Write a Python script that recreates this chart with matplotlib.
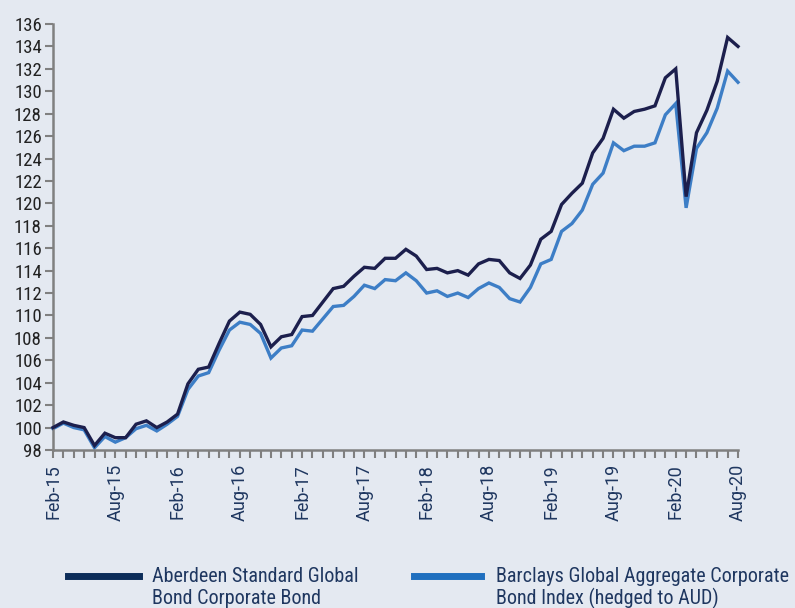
import matplotlib
matplotlib.use("Agg")
import matplotlib.pyplot as plt
from matplotlib.lines import Line2D

aberdeen = [100.0, 100.5, 100.2, 100.0, 98.4, 99.5, 99.1, 99.1, 100.3, 100.6, 100.0, 100.5,
            101.2, 103.9, 105.2, 105.4, 107.5, 109.5, 110.3, 110.1, 109.2, 107.2, 108.1, 108.3,
            109.9, 110.0, 111.2, 112.4, 112.6, 113.5, 114.3, 114.2, 115.1, 115.1, 115.9, 115.3,
            114.1, 114.2, 113.8, 114.0, 113.6, 114.6, 115.0, 114.9, 113.8, 113.3, 114.5, 116.8,
            117.5, 119.9, 120.9, 121.8, 124.5, 125.8, 128.4, 127.6, 128.2, 128.4, 128.7, 131.2,
            132.0, 120.6, 126.3, 128.3, 130.9, 134.8, 134.0]

barclays = [99.9, 100.4, 100.0, 99.8, 98.2, 99.2, 98.7, 99.1, 99.9, 100.2, 99.7, 100.3,
            101.0, 103.4, 104.6, 104.9, 106.9, 108.7, 109.4, 109.2, 108.4, 106.2, 107.1, 107.3,
            108.7, 108.6, 109.7, 110.8, 110.9, 111.7, 112.7, 112.4, 113.2, 113.1, 113.8, 113.1,
            112.0, 112.2, 111.7, 112.0, 111.6, 112.4, 112.9, 112.5, 111.5, 111.2, 112.5, 114.6,
            115.0, 117.5, 118.2, 119.4, 121.7, 122.7, 125.4, 124.7, 125.1, 125.1, 125.4, 127.9,
            128.9, 119.6, 124.9, 126.3, 128.5, 131.8, 130.8]

tick_labels = ["Feb-15", "Aug-15", "Feb-16", "Aug-16", "Feb-17", "Aug-17", "Feb-18",
               "Aug-18", "Feb-19", "Aug-19", "Feb-20", "Aug-20"]
series_names = [["Aberdeen Standard Global", "Bond Corporate Bond"],
                ["Barclays Global Aggregate Corporate", "Bond Index (hedged to AUD)"]]

bg = "#e4e9f1"
dark = "#1c1f4d"
light = "#3d7ec6"
grey = "#808080"
txt = "#1f3760"

plt.rcParams['font.family'] = ['Roboto Condensed', 'Roboto', 'DejaVu Sans']

W, H = 795, 608
fig = plt.figure(figsize=(W / 100, H / 100), dpi=100, facecolor=bg)
ax = fig.add_axes([53 / W, (H - 450) / H, (738 - 53) / W, (450 - 24) / H])
ax.set_facecolor(bg)

x = list(range(len(aberdeen)))
ax.plot(x, aberdeen, color=dark, lw=2.4, zorder=3, solid_joinstyle='miter', clip_on=False)
ax.plot(x, barclays, color=light, lw=2.4, zorder=2, solid_joinstyle='miter', clip_on=False)

ax.set_xlim(0, len(aberdeen) - 1)
ax.set_ylim(98, 136)
ax.set_yticks(range(98, 137, 2))
ax.set_xticks(range(0, len(aberdeen), 6))
ax.set_xticklabels(tick_labels, rotation=90, color=txt, fontsize=13,
                   family=['Roboto', 'DejaVu Sans'])
ax.set_xticks(range(len(aberdeen)), minor=True)
ax.tick_params(axis='y', labelsize=13.5, labelcolor="#222222", color=grey, width=1.5, length=6, pad=2)
ax.tick_params(axis='x', which='both', color=grey, width=1.5, length=6, pad=4)

for s in ["top", "right"]:
    ax.spines[s].set_visible(False)
for s in ["left", "bottom"]:
    ax.spines[s].set_color(grey)
    ax.spines[s].set_linewidth(1.8)

# legend drawn manually in figure pixel positions
legend_specs = [("#0d2d5a", 68, 139, 152), ("#1f6fbf", 414, 481, 496)]
for (col, x0, x1, tx), lines in zip(legend_specs, series_names):
    fig.add_artist(Line2D([x0 / W, x1 / W], [1 - 576 / H, 1 - 576 / H], color=col, lw=5,
                          transform=fig.transFigure))
    fig.text(tx / W, 1 - 577 / H, lines[0], color=txt, fontsize=14.5, va='center', ha='left')
    fig.text(tx / W, 1 - 598 / H, lines[1], color=txt, fontsize=14.5, va='center', ha='left')

fig.savefig("out.png", dpi=100, facecolor=bg)
